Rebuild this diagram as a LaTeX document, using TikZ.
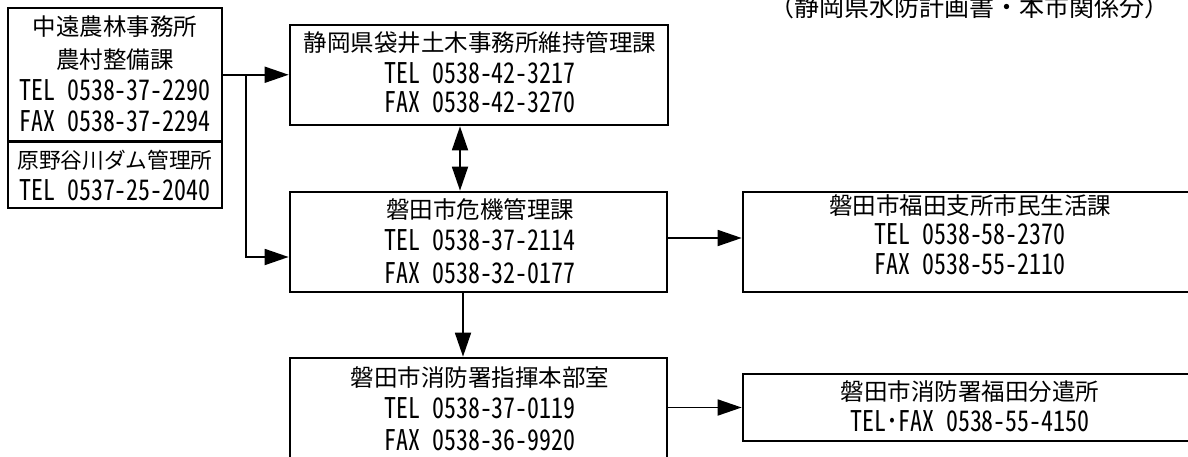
\documentclass[tikz,border=0pt]{standalone}
\usepackage{fontspec}
\setmainfont{Noto Sans CJK JP}
\newfontfamily\latfont[RawFeature=+hwid,FakeStretch=0.84]{Noto Sans CJK JP}
\usetikzlibrary{arrows.meta}
\begin{document}
\begin{tikzpicture}[x=1pt,y=-1pt,
  box/.style={draw,line width=2.7pt,inner sep=0pt,rectangle},
  txt/.style={font=\fontsize{23.5}{23.5}\selectfont,inner sep=0pt,anchor=center,text height=20.7pt,text depth=2.8pt},
  lat/.style={txt,font=\latfont\fontsize{28.5}{28.5}\selectfont},
  ttl/.style={font=\fontsize{25}{25}\selectfont,inner sep=0pt,anchor=center,text height=22pt,text depth=3pt},
  conn/.style={line width=1.8pt,-{Triangle[length=24pt,width=16pt]}},
  dconn/.style={line width=1.8pt,{Triangle[length=24pt,width=16pt]}-{Triangle[length=24pt,width=16pt]}},
]
\useasboundingbox (0,0) rectangle (1188,457);

% title
\node[ttl] (title) at (969,7) {（静岡県水防計画書・本市関係分）};

% boxes
\node[box,minimum width=214pt,minimum height=133.5pt] (lt) at (115,74.75) {};
\node[box,minimum width=214pt,minimum height=66.5pt] (lb) at (115,174.75) {};
\node[box,minimum width=378pt,minimum height=100pt] (b2) at (479,75) {};
\node[box,minimum width=377pt,minimum height=100pt] (b3) at (478.5,242) {};
\node[box,minimum width=454pt,minimum height=100pt] (b4) at (970,242) {};
\node[box,minimum width=377pt,minimum height=104pt] (b5) at (478.5,410) {};
\node[box,minimum width=454pt,minimum height=67pt] (b6) at (970,407.5) {};

% texts
\node[txt] (lt1) at (115,27) {中遠農林事務所};
\node[txt] (lt2) at (115,60) {農村整備課};
\node[lat] (lt3) at (115,92) {TEL 0538-37-2290};
\node[lat] (lt4) at (115,123) {FAX 0538-37-2294};
\node[txt,font=\fontsize{21.7}{21.7}\selectfont] (lb1) at (115,160) {原野谷川ダム管理所};
\node[lat] (lb2) at (115,192) {TEL 0537-25-2040};

\node[txt] (b2a) at (480,43) {静岡県袋井土木事務所維持管理課};
\node[lat] (b2b) at (480,75) {TEL 0538-42-3217};
\node[lat] (b2c) at (480,104) {FAX 0538-42-3270};

\node[txt] (b3a) at (480,210) {磐田市危機管理課};
\node[lat] (b3b) at (480,242) {TEL 0538-37-2114};
\node[lat] (b3c) at (480,275) {FAX 0538-32-0177};

\node[txt] (b4a) at (970,206) {磐田市福田支所市民生活課};
\node[lat] (b4b) at (970,236) {TEL 0538-58-2370};
\node[lat] (b4c) at (970,266) {FAX 0538-55-2110};

\node[txt] (b5a) at (480,378) {磐田市消防署指揮本部室};
\node[lat] (b5b) at (480,410) {TEL 0538-37-0119};
\node[lat] (b5c) at (480,442) {FAX 0538-36-9920};

\node[txt] (b6a) at (970,392) {磐田市消防署福田分遣所};
\node[lat] (b6b) at (970,423) {TEL･FAX 0538-55-4150};

% connectors
\draw[conn] (lt.east) -- (lt.east -| b2.west);
\coordinate (j) at (246,74.75);
\draw[conn] (j) |- ([yshift=-15pt]b3.west);
\draw[dconn] ([xshift=-19pt]b2.south) -- ([xshift=-19pt]b2.south |- b3.north);
\draw[conn] ([yshift=4pt]b3.east) -- ([yshift=4pt]b3.east -| b4.west);
\draw[conn] ([xshift=-15.5pt]b3.south) -- ([xshift=-15.5pt]b3.south |- b5.north);
\draw[conn] (b5.east |- b6.west) -- (b6.west);
\end{tikzpicture}
\end{document}
